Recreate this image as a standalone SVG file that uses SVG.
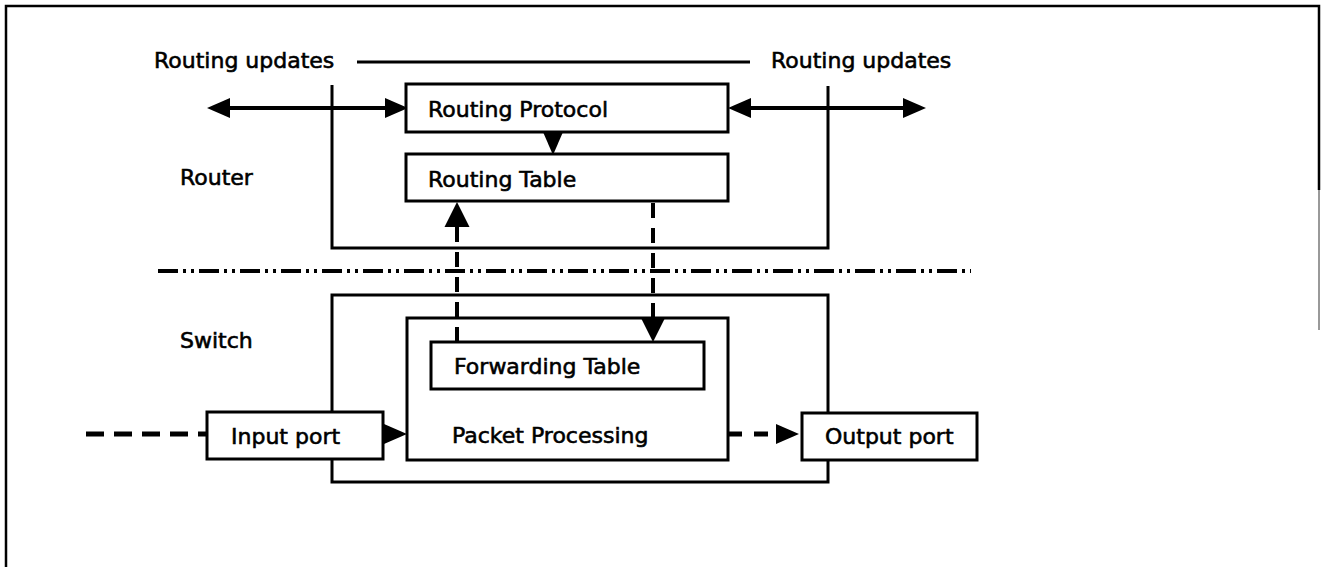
<svg xmlns="http://www.w3.org/2000/svg" width="1321" height="567" viewBox="0 0 1321 567">
<style>
.bg{fill:#fff}
.box{fill:#fff;stroke:#000;stroke-width:3}
.frame{fill:none;stroke:#000;stroke-width:3}
.ln{fill:none;stroke:#000;stroke-width:4}
.dash{fill:none;stroke:#000;stroke-width:4;stroke-dasharray:15 10}
.dashin{fill:none;stroke:#000;stroke-width:5;stroke-dasharray:18 10}
.dashout{fill:none;stroke:#000;stroke-width:5;stroke-dasharray:14 12}
.ddot{fill:none;stroke:#000;stroke-width:4;stroke-dasharray:20 5 3 5 3 5}
.t{font-family:"DejaVu Sans",Verdana,"Liberation Sans",sans-serif;font-size:22px;fill:#000;stroke:#000;stroke-width:0.6}
</style>
<defs>
<marker id="ah" markerUnits="userSpaceOnUse" markerWidth="26" markerHeight="24" viewBox="0 -12 26 24" refX="0" refY="0" orient="auto-start-reverse" overflow="visible">
<path d="M0,-10 L23,0 L0,10 z" fill="#000"/>
</marker>
<marker id="ahL" markerUnits="userSpaceOnUse" markerWidth="28" markerHeight="28" viewBox="0 -14 28 28" refX="0" refY="0" orient="auto-start-reverse" overflow="visible">
<path d="M0,-12.5 L25,0 L0,12.5 z" fill="#000"/>
</marker>
</defs>
<rect class="bg" x="0" y="0" width="1321" height="567"/>
<g id="frame">
<path d="M6,567 L6,6 L1319,6 L1319,190" fill="none" stroke="#000" stroke-width="2.5"/>
<path d="M1319,190 L1319,330" fill="none" stroke="#999" stroke-width="2"/>
</g>
<g id="labels">
<text class="t" x="154" y="68">Routing updates</text>
<text class="t" x="771" y="68">Routing updates</text>
<text class="t" x="180" y="185">Router</text>
<text class="t" x="180" y="348">Switch</text>
</g>
<g id="router">
<path class="frame" d="M332,85 L332,248 L828,248 L828,86"/>
</g>
<g id="switch">
<rect class="frame" x="332" y="295" width="496" height="187"/>
</g>
<g id="separator">
<path class="ddot" d="M158,271 L971,271"/>
</g>
<g id="connectors">
<path class="frame" d="M357,62 L750,62"/>
<path class="ln" d="M230,108 L385,108" marker-start="url(#ah)" marker-end="url(#ah)"/>
<path class="ln" d="M751,108 L903,108" marker-start="url(#ah)" marker-end="url(#ah)"/>
<path class="ln" d="M553,130 L553,132" marker-end="url(#ah)"/>
<path class="dash" d="M457,342 L457,227" marker-end="url(#ahL)"/>
<path class="dash" d="M653,203 L653,317" marker-end="url(#ahL)"/>
<path class="dashin" d="M86,434 L207,434"/>
<path class="ln" d="M382,434 L384,434" marker-end="url(#ah)"/>
<path class="dashout" d="M728,434 L776,434" marker-end="url(#ah)"/>
</g>
<g id="routing-protocol">
<rect class="box" x="406" y="84" width="322" height="48"/>
<text class="t" x="428" y="117">Routing Protocol</text>
</g>
<g id="routing-table">
<rect class="box" x="406" y="154" width="322" height="47"/>
<text class="t" x="428" y="187">Routing Table</text>
</g>
<g id="packet-processing">
<rect class="box" x="407" y="318" width="321" height="142" style="fill:none"/>
<text class="t" x="452" y="443">Packet Processing</text>
</g>
<g id="forwarding-table">
<rect class="box" x="431" y="342" width="273" height="47"/>
<text class="t" x="454" y="374">Forwarding Table</text>
</g>
<g id="input-port">
<rect class="box" x="207" y="412" width="176" height="47"/>
<text class="t" x="231" y="444">Input port</text>
</g>
<g id="output-port">
<rect class="box" x="802" y="413" width="175" height="47"/>
<text class="t" x="825" y="444">Output port</text>
</g>
</svg>
